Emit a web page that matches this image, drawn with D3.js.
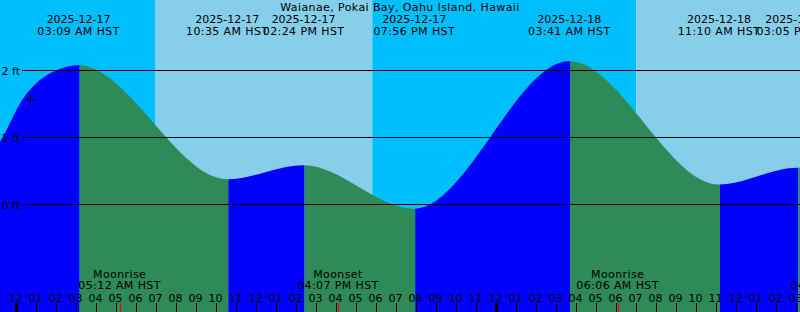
<!DOCTYPE html>
<html>
<head>
<meta charset="utf-8">
<script src="https://cdn.jsdelivr.net/npm/d3@7"></script>
<style>
  html, body { margin: 0; padding: 0; background: #fff; }
  svg { display: block; }
  text { font-family: "DejaVu Sans", sans-serif; font-size: 11px; fill: #000; }
  text.wide { letter-spacing: 0.4px; }
</style>
</head>
<body>
<svg id="chart" width="800" height="312"></svg>
<script>
// --- data ---
const stationName = "Waianae, Pokai Bay, Oahu Island, Hawaii";

// tide extremes (local time, HST) and heights in ft
const tideTimes = ["2025-12-17 03:09", "2025-12-17 10:35", "2025-12-17 14:24", "2025-12-17 19:56",
                   "2025-12-18 03:41", "2025-12-18 11:10", "2025-12-18 15:05"];
const tideHeights = [2.07, 0.37, 0.58, -0.07, 2.13, 0.29, 0.54];

// extra levels read along the curve near the edges (incl. the off-screen neighbours)
const edgeTimes = ["2025-12-16 20:20", "2025-12-16 23:13", "2025-12-17 00:22", "2025-12-17 02:04", "2025-12-18 21:10"];
const edgeHeights = [0.3, 0.93, 1.57, 2.0, -0.1];

// sunrise, sunset, sunrise
const sunTimes = ["2025-12-17 07:00", "2025-12-17 17:50", "2025-12-18 07:02"];

const moonTimes = ["2025-12-17 05:12", "2025-12-17 16:07", "2025-12-18 06:06", "2025-12-18 16:47"];
const moonEvents = ["Moonrise", "Moonset", "Moonrise", "Moonset"];

const footLevels = [0, 1, 2];

const markTime = "2025-12-17 00:42";
const markHeight = 1.57;

// --- setup ---
const width = 800, height = 312;
const parse = d3.utcParse("%Y-%m-%d %H:%M");
const fmtDate = d3.utcFormat("%Y-%m-%d");
const fmtTime = d => d3.utcFormat("%I:%M %p")(d) + " HST";

const NIGHT = "#00BFFF", DAY = "#87CEEB";
const RISING = "#0000FF", FALLING = "#2E8B57";

// 20 px per hour, midnight of 12-17 sits at x = 15.6
const t0 = new Date(Date.UTC(2025, 11, 17, 0, 0) - 15.6 / 20 * 3600e3);
const t1 = new Date(+t0 + 40 * 3600e3);
const x = d3.scaleUtc().domain([t0, t1]).range([0, width]);
const y = d3.scaleLinear().domain([0, 2]).range([204, 70]);

const svg = d3.select("#chart");

// --- day / night background ---
const sunDates = sunTimes.map(parse);
const bandEdges = [t0, ...sunDates, t1];
svg.append("g").selectAll("rect")
  .data(d3.pairs(bandEdges))
  .join("rect")
  .attr("x", d => x(d[0]))
  .attr("y", 0)
  .attr("width", d => x(d[1]) - x(d[0]))
  .attr("height", height)
  .attr("fill", (d, i) => i % 2 === 0 ? NIGHT : DAY);

// --- water ---
const extremes = tideTimes.map((t, i) => ({ t: parse(t), h: tideHeights[i] }));
const levels = extremes
  .concat(edgeTimes.map((t, i) => ({ t: parse(t), h: edgeHeights[i] })))
  .sort((a, b) => a.t - b.t);

const area = d3.area()
  .x(d => x(d.t))
  .y0(height)
  .y1(d => y(d.h))
  .curve(d3.curveMonotoneX);

svg.append("clipPath").attr("id", "water")
  .append("path").attr("d", area(levels));

const isHigh = (d, i) => i < extremes.length - 1 ? d.h > extremes[i + 1].h : d.h > extremes[i - 1].h;
const segEdges = [t0, ...extremes.map(d => d.t), t1];
svg.append("g").attr("clip-path", "url(#water)")
  .selectAll("rect")
  .data(d3.pairs(segEdges))
  .join("rect")
  .attr("x", d => x(d[0]) + 1)
  .attr("y", 0)
  .attr("width", d => x(d[1]) - x(d[0]))
  .attr("height", height)
  .attr("fill", (d, i) => {
    if (i >= extremes.length) return isHigh(extremes[i - 1], i - 1) ? FALLING : RISING;
    return isHigh(extremes[i], i) ? RISING : FALLING;
  });
// first segment starts at the left edge
svg.select("g[clip-path] rect").attr("x", 0).attr("width", x(extremes[0].t) + 1);

// --- foot lines ---
const gridG = svg.append("g");
gridG.selectAll("line")
  .data(footLevels)
  .join("line")
  .attr("x1", 22).attr("x2", width)
  .attr("y1", d => Math.round(y(d)) + 0.5)
  .attr("y2", d => Math.round(y(d)) + 0.5)
  .attr("stroke", "#000").attr("stroke-width", 1);
gridG.selectAll("text")
  .data(footLevels)
  .join("text")
  .attr("x", 20)
  .attr("y", d => y(d) + 4.5)
  .attr("text-anchor", "end")
  .text(d => `${d} ft`);

// --- title and extreme labels ---
svg.append("text")
  .attr("class", "wide")
  .attr("x", width / 2).attr("y", 10.5)
  .attr("text-anchor", "middle")
  .text(stationName);

const topG = svg.append("g");
extremes.forEach(d => {
  topG.append("text").attr("x", x(d.t)).attr("y", 23)
    .attr("text-anchor", "middle").text(fmtDate(d.t));
  topG.append("text").attr("class", "wide").attr("x", x(d.t)).attr("y", 35)
    .attr("text-anchor", "middle").text(fmtTime(d.t));
});

// --- moon events ---
const moonG = svg.append("g");
moonTimes.forEach((t, i) => {
  const mt = parse(t);
  moonG.append("text").attr("class", "wide").attr("x", x(mt)).attr("y", 278)
    .attr("text-anchor", "middle").text(moonEvents[i]);
  moonG.append("text").attr("class", "wide").attr("x", x(mt)).attr("y", 289)
    .attr("text-anchor", "middle").text(fmtTime(mt));
  moonG.append("line")
    .attr("x1", Math.round(x(mt)) + 0.5).attr("x2", Math.round(x(mt)) + 0.5)
    .attr("y1", 303).attr("y2", height)
    .attr("stroke", "#FF0000").attr("stroke-width", 1);
});

// --- hour axis ---
const hours = d3.utcHour.range(d3.utcHour.floor(t0), t1);
const axisG = svg.append("g");
axisG.selectAll("text")
  .data(hours)
  .join("text")
  .attr("x", d => x(d))
  .attr("y", 302)
  .attr("text-anchor", "middle")
  .text(d => d3.utcFormat("%I")(d));
axisG.selectAll("rect")
  .data(hours)
  .join("rect")
  .attr("x", d => d.getUTCHours() === 0 ? Math.round(x(d)) - 1 : Math.round(x(d)))
  .attr("y", 303)
  .attr("width", d => d.getUTCHours() === 0 ? 3 : 1)
  .attr("height", height - 303)
  .attr("fill", "#000");

// --- plus marker ---
const mx = Math.round(x(parse(markTime))) + 0.5;
const my = Math.round(y(markHeight)) + 0.5;
svg.append("path")
  .attr("d", `M${mx - 5},${my}H${mx + 5}M${mx},${my - 5}V${my + 5}`)
  .attr("stroke", "#000").attr("stroke-width", 1).attr("fill", "none");
</script>
</body>
</html>
